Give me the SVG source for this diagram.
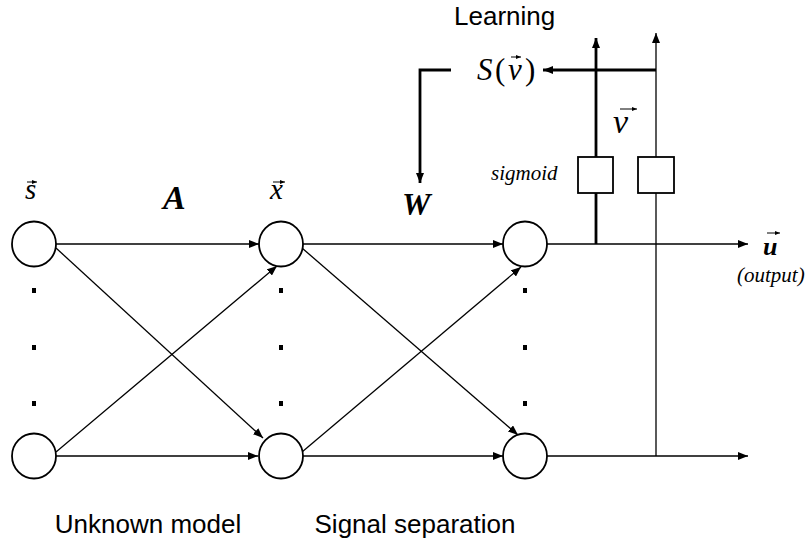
<svg xmlns="http://www.w3.org/2000/svg" width="808" height="544" viewBox="0 0 808 544">
<style>
.node{fill:#fff;stroke:#000;stroke-width:1.8}
.thin{fill:none;stroke:#000;stroke-width:1.3}
.thick{fill:none;stroke:#000;stroke-width:2.8}
.box{fill:#fff;stroke:#000;stroke-width:1.8}
.dot{fill:#000}
.sans{font-family:"Liberation Sans",Arial,sans-serif;font-size:26px;fill:#000}
.math{font-family:"Liberation Serif","Times New Roman",serif;font-style:italic;fill:#000}
.bold{font-weight:bold}
.vec{fill:none;stroke:#000;stroke-width:1}
</style>
<defs>
<marker id="ah" viewBox="0 0 10 8" refX="10" refY="4" markerWidth="10" markerHeight="8" markerUnits="userSpaceOnUse" orient="auto">
<path d="M0,0 L10,4 L0,8 z" fill="#000"/>
</marker>
<marker id="va" viewBox="0 0 5 4" refX="5" refY="2" markerWidth="5" markerHeight="4" markerUnits="userSpaceOnUse" orient="auto">
<path d="M0,0 L5,2 L0,4 z" fill="#000"/>
</marker>
</defs>
<rect width="808" height="544" fill="#fff"/>

<g id="connectors">
<line class="thin" x1="56" y1="244" x2="259" y2="244" marker-end="url(#ah)"/>
<line class="thin" x1="56" y1="456" x2="258" y2="456" marker-end="url(#ah)"/>
<line class="thin" x1="56" y1="248" x2="263" y2="438" marker-end="url(#ah)"/>
<line class="thin" x1="56" y1="452" x2="277" y2="266" marker-end="url(#ah)"/>
<line class="thin" x1="303" y1="244" x2="503" y2="244" marker-end="url(#ah)"/>
<line class="thin" x1="302" y1="456" x2="503" y2="456" marker-end="url(#ah)"/>
<line class="thin" x1="302" y1="248" x2="518" y2="435" marker-end="url(#ah)"/>
<line class="thin" x1="302" y1="452" x2="521" y2="267" marker-end="url(#ah)"/>
<line class="thin" x1="547" y1="244" x2="748" y2="244" marker-end="url(#ah)"/>
<line class="thin" x1="547" y1="456" x2="748" y2="456" marker-end="url(#ah)"/>
<line class="thick" x1="596" y1="244" x2="596" y2="193"/>
<line class="thick" x1="596" y1="157" x2="596" y2="38" marker-end="url(#ah)"/>
<line class="thin" x1="656" y1="456" x2="656" y2="193"/>
<line class="thin" x1="656" y1="157" x2="656" y2="33" marker-end="url(#ah)"/>
<line class="thick" x1="656" y1="70" x2="543" y2="70" marker-end="url(#ah)"/>
<polyline class="thick" points="451,70 420,70 420,183" marker-end="url(#ah)"/>
</g>

<g id="node-s1"><ellipse class="node" cx="34" cy="244" rx="22" ry="22.5"/></g>
<g id="node-s2"><ellipse class="node" cx="34" cy="456" rx="22" ry="22.5"/></g>
<g id="node-x1"><ellipse class="node" cx="281" cy="244" rx="22" ry="22.5"/></g>
<g id="node-x2"><ellipse class="node" cx="281" cy="456" rx="22" ry="22.5"/></g>
<g id="node-u1"><ellipse class="node" cx="525" cy="244" rx="22" ry="22.5"/></g>
<g id="node-u2"><ellipse class="node" cx="525" cy="456" rx="22" ry="22.5"/></g>
<g id="sigmoid1"><rect class="box" x="578" y="157" width="35" height="36"/></g>
<g id="sigmoid2"><rect class="box" x="638" y="157" width="36" height="36"/></g>

<g id="dots">
<rect class="dot" x="32" y="288" width="4" height="5"/>
<rect class="dot" x="32" y="345" width="4" height="5"/>
<rect class="dot" x="32" y="401" width="4" height="5"/>
<rect class="dot" x="279" y="288" width="4" height="5"/>
<rect class="dot" x="279" y="345" width="4" height="5"/>
<rect class="dot" x="279" y="401" width="4" height="5"/>
<rect class="dot" x="523" y="288" width="4" height="5"/>
<rect class="dot" x="523" y="345" width="4" height="5"/>
<rect class="dot" x="523" y="401" width="4" height="5"/>
</g>

<g id="labels">
<text class="sans" x="454" y="25">Learning</text>
<text class="sans" x="148" y="533" text-anchor="middle">Unknown model</text>
<text class="sans" x="415" y="533" text-anchor="middle">Signal separation</text>

<text class="math" x="25" y="199" font-size="29">s</text>
<line class="vec" x1="27" y1="182" x2="37" y2="182" marker-end="url(#va)"/>
<text class="math" x="270" y="199" font-size="29">x</text>
<line class="vec" x1="273" y1="182" x2="285" y2="182" marker-end="url(#va)"/>
<text class="math bold" x="163" y="209" font-size="34">A</text>
<text class="math bold" x="402" y="215" font-size="32">W</text>
<text class="math" x="613" y="133" font-size="34">v</text>
<line class="vec" x1="620" y1="109" x2="637" y2="109" marker-end="url(#va)"/>
<text class="math bold" x="763" y="255" font-size="26">u</text>
<line class="vec" x1="767" y1="233" x2="780" y2="233" marker-end="url(#va)"/>
<text class="math" x="737" y="282" font-size="21">(output)</text>
<text class="math" x="491" y="180" font-size="21">sigmoid</text>
<text class="math" font-size="31" y="80"><tspan x="477">S</tspan><tspan x="495" font-style="normal">(</tspan><tspan x="508">v</tspan><tspan x="525" font-style="normal">)</tspan></text>
<line class="vec" x1="511" y1="57" x2="521" y2="57" marker-end="url(#va)"/>
</g>
</svg>
